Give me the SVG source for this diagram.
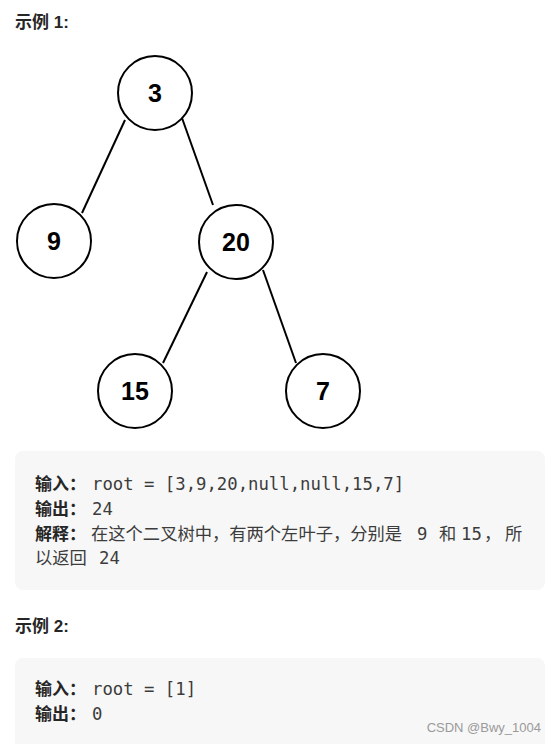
<svg xmlns="http://www.w3.org/2000/svg" width="555" height="744" viewBox="0 0 555 744">
<style>
.h{font-family:"Liberation Sans","Noto Sans CJK SC",sans-serif;font-weight:bold;font-size:17px;fill:#262626}
.lb{font-family:"Noto Sans CJK SC",sans-serif;font-weight:bold;font-size:17px;fill:#262626}
.cn{font-family:"Noto Sans CJK SC",sans-serif;font-size:17.3px;fill:#3c3c3c}
.code{font-family:"DejaVu Sans Mono",monospace;font-size:17.3px;fill:#3c3c3c}
.nd circle{fill:#fff;stroke:#000;stroke-width:2}
.nd text{font-family:"Liberation Sans",Arial,sans-serif;font-weight:bold;font-size:25px;fill:#000;text-anchor:middle}
.box{fill:#f7f7f7}
</style>
<rect width="555" height="744" fill="#fff"/>
<text class="h" x="15" y="28">示例 1:</text>
<g id="edges" stroke="#000" stroke-width="2">
<line x1="125" y1="120" x2="82" y2="213"/>
<line x1="182" y1="118" x2="213" y2="205"/>
<line x1="207" y1="272" x2="163" y2="363"/>
<line x1="263" y1="270" x2="296" y2="363"/>
</g>
<g id="n3" class="nd"><circle cx="155" cy="93" r="37"/><text x="155" y="102">3</text></g>
<g id="n9" class="nd"><circle cx="54" cy="241" r="37"/><text x="54" y="250">9</text></g>
<g id="n20" class="nd"><circle cx="236" cy="242" r="37"/><text x="236" y="251">20</text></g>
<g id="n15" class="nd"><circle cx="135" cy="391" r="37"/><text x="135" y="400">15</text></g>
<g id="n7" class="nd"><circle cx="323" cy="391" r="37"/><text x="323" y="400">7</text></g>
<rect class="box" x="15" y="451" width="530" height="139" rx="8"/>
<text x="35" y="490"><tspan class="lb">输入：</tspan><tspan class="code" x="92">root = [3,9,20,null,null,15,7]</tspan></text>
<text x="35" y="515"><tspan class="lb">输出：</tspan><tspan class="code" x="92">24</tspan></text>
<text x="35" y="540"><tspan class="lb">解释：</tspan><tspan class="cn" x="91">在这个二叉树中，有两个左叶子，分别是</tspan><tspan class="code" x="417">9</tspan><tspan class="cn" x="439">和</tspan><tspan class="code" x="461">15</tspan><tspan class="cn" x="484">，</tspan><tspan class="cn" x="505">所</tspan></text>
<text x="35" y="564"><tspan class="cn">以返回</tspan><tspan class="code" x="99">24</tspan></text>
<text class="h" x="15" y="632">示例 2:</text>
<rect class="box" x="15" y="658" width="530" height="100" rx="8"/>
<text x="35" y="695"><tspan class="lb">输入：</tspan><tspan class="code" x="92">root = [1]</tspan></text>
<text x="35" y="720"><tspan class="lb">输出：</tspan><tspan class="code" x="92">0</tspan></text>
<text x="541" y="732" text-anchor="end" font-family="Liberation Sans,sans-serif" font-size="13" fill="#9a9a9a">CSDN @Bwy_1004</text>
</svg>
